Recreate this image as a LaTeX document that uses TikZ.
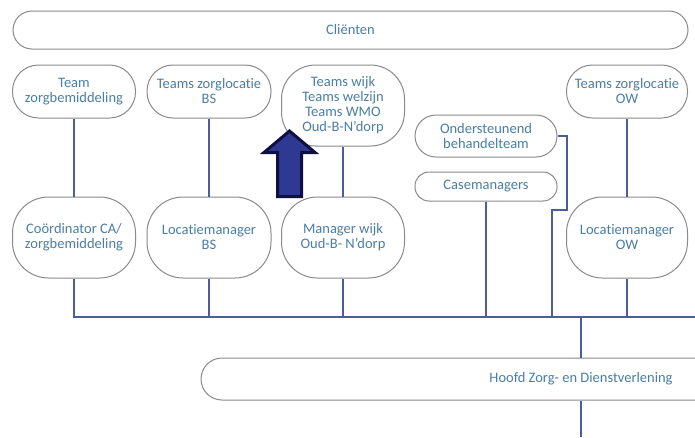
\documentclass[tikz,border=0pt]{standalone}
\usepackage{fontspec}
\setmainfont{Carlito}[Ligatures=NoCommon]
\usepackage{tikz}
\definecolor{boxline}{HTML}{8A8A8A}
\definecolor{boxtext}{HTML}{4A7EA6}
\definecolor{conn}{HTML}{4B5E9A}
\definecolor{arrfill}{HTML}{2E3A92}
\definecolor{arrline}{HTML}{0D1040}
\begin{document}
\begin{tikzpicture}[x=1pt,y=-1pt,
  box/.style={draw=boxline,line width=1pt,rectangle,align=center,inner sep=0pt,
    text=boxtext,font=\fontsize{14.5}{15}\selectfont},
  lijn/.style={draw=conn,line width=1.5pt}]

\clip (0,0) rectangle (695,437);
\fill[white] (0,0) rectangle (695,437);

\coordinate (bus) at (695,317);
\coordinate (bottom) at (581,437);

\node[box,rounded corners=19,minimum width=675,minimum height=38] (A) at (350.5,30) {Cliënten};

\node[box,rounded corners=26,minimum width=123,minimum height=53] (B) at (74,91.5) {Team\\zorgbemiddeling};
\node[box,rounded corners=26,minimum width=124,minimum height=53] (C) at (209,91.5) {Teams zorglocatie\\BS};
\node[box,rounded corners=34,minimum width=123,minimum height=81] (D) at (343,105.5) {Teams wijk\\Teams welzijn\\Teams WMO\\Oud-B-N’dorp};
\node[box,rounded corners=26,minimum width=121,minimum height=53] (E) at (627,91.5) {Teams zorglocatie\\OW};
\node[box,rounded corners=21,minimum width=142,minimum height=42] (F) at (486,136) {Ondersteunend\\behandelteam};
\node[box,rounded corners=14,minimum width=142,minimum height=29] (G) at (486,186.5) {Casemanagers};

\node[box,rounded corners=36,minimum width=123,minimum height=81] (H) at (74,237.5) {Coördinator CA/\\zorgbemiddeling};
\node[box,rounded corners=36,minimum width=124,minimum height=81] (I) at (209,237.5) {Locatiemanager\\BS};
\node[box,rounded corners=36,minimum width=123,minimum height=81] (J) at (343,237.5) {Manager wijk\\Oud-B- N’dorp};
\node[box,rounded corners=36,minimum width=121,minimum height=81] (K) at (627,237.5) {Locatiemanager\\OW};

\node[box,rounded corners=21,minimum width=760,minimum height=42] (L) at (581,379) {Hoofd Zorg- en Dienstverlening};

\draw[lijn] (B) -- (H);
\draw[lijn] (C) -- (I);
\draw[lijn] (D) -- (J);
\draw[lijn] (E) -- (K);
\draw[lijn] (H.south) |- (bus);
\draw[lijn] (I.south) -- (I.south |- bus);
\draw[lijn] (J.south) -- (J.south |- bus);
\draw[lijn] (G.south) -- (G.south |- bus);
\draw[lijn] (K.south) -- (K.south |- bus);
\draw[lijn] (F.east) -- (567,136) -- (567,210) -- (552,210) -- (552,317);
\draw[lijn] (L.north |- bus) -- (L.north);
\draw[lijn] (L.south) -- (bottom);

\filldraw[fill=arrfill,draw=arrline,line width=3pt,line join=miter]
  (289.5,131) -- (315,152.5) -- (301.5,152.5) -- (301.5,196.5) -- (277.5,196.5)
  -- (277.5,152.5) -- (264,152.5) -- cycle;
\end{tikzpicture}
\end{document}
